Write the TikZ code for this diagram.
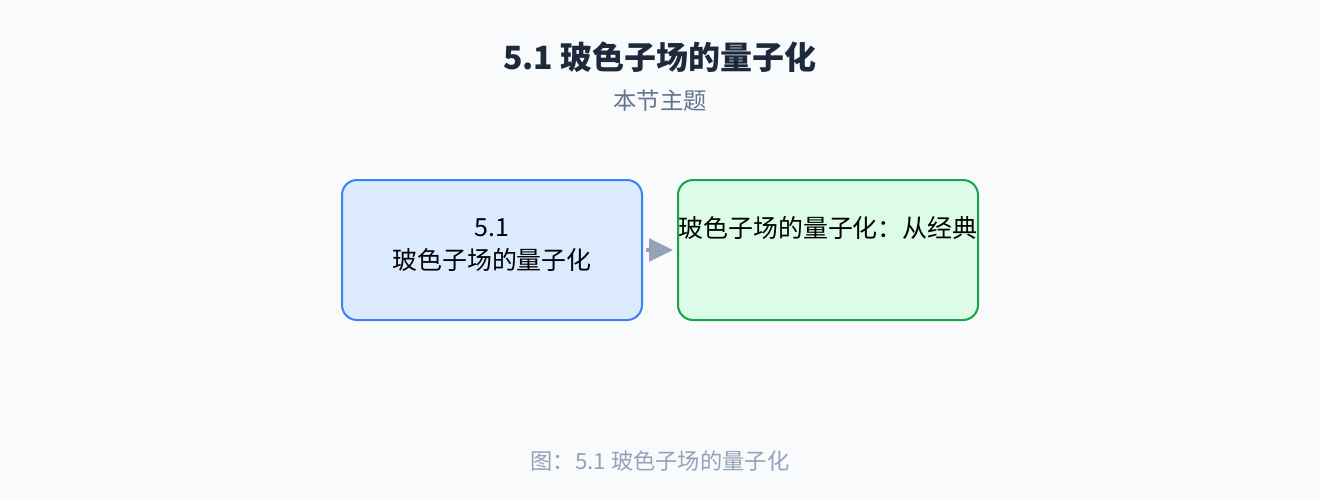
\documentclass[tikz,border=0pt]{standalone}
\usepackage{fontspec}
\setmainfont{Noto Sans CJK SC}
\usetikzlibrary{arrows.meta}
\definecolor{bgc}{HTML}{F8FAFC}
\definecolor{titlec}{HTML}{1E293B}
\definecolor{subc}{HTML}{64748B}
\definecolor{capc}{HTML}{94A3B8}
\definecolor{bluefill}{HTML}{DBEAFE}
\definecolor{blueline}{HTML}{3B82F6}
\definecolor{greenfill}{HTML}{DCFCE7}
\definecolor{greenline}{HTML}{16A34A}
\definecolor{arrowc}{HTML}{94A3B8}
\tikzset{
  boxbase/.style={rounded corners=11.25pt, line width=1.5pt, minimum width=225pt, minimum height=105pt, inner sep=0pt},
  bluebox/.style={boxbase, draw=blueline, fill=bluefill},
  greenbox/.style={boxbase, draw=greenline, fill=greenfill},
  boxtext/.style={font=\fontsize{18.7pt}{25pt}\selectfont, text=black, align=center, inner sep=0pt},
  conn/.style={draw=arrowc, line width=2.5pt, -{Triangle[length=18pt,width=17pt]}, shorten <=2.5pt, shorten >=3pt},
}
\begin{document}
\begin{tikzpicture}[x=0.75pt,y=-0.75pt]
\useasboundingbox (0,0) rectangle (1320,500);
\fill[bgc] (0,0) rectangle (1320,500);
\node[font=\fontsize{24pt}{28pt}\selectfont\bfseries, text=titlec] (title) at (660,57) {5.1 玻色子场的量子化};
\node[font=\fontsize{17.5pt}{20pt}\selectfont, text=subc] (sub) at (660,101) {本节主题};
\node[bluebox] (a) at (492,250) {};
\node[greenbox] (b) at (828,250) {};
\node[boxtext] (at) at (492,245) {5.1\\玻色子场的量子化};
\node[boxtext] (bt) at (828,228) {玻色子场的量子化：从经典};
\draw[conn] (a.east) -- (b.west);
\node[font=\fontsize{16.7pt}{20pt}\selectfont, text=capc] (cap) at (660,461) {图：5.1 玻色子场的量子化};
\end{tikzpicture}
\end{document}
